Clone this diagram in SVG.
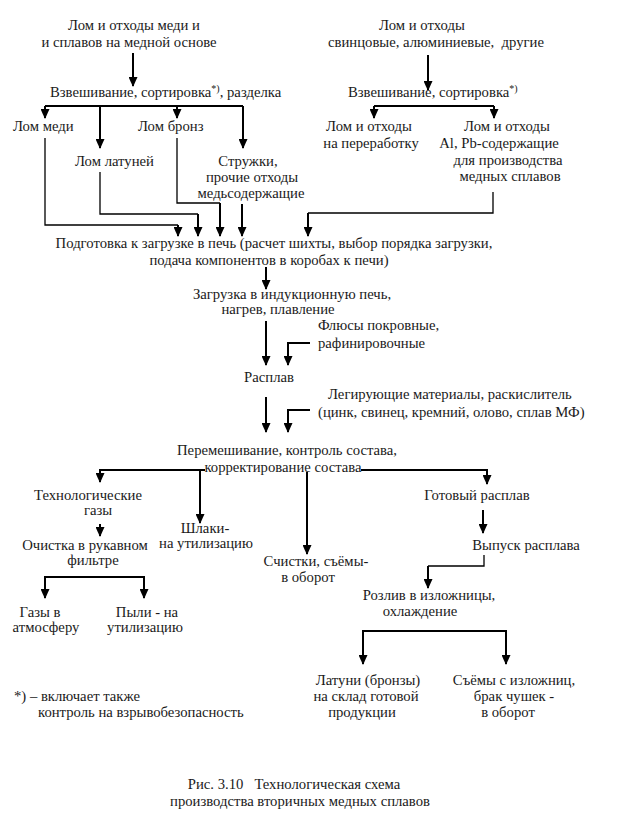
<svg xmlns="http://www.w3.org/2000/svg" width="622" height="815" viewBox="0 0 622 815" font-family="'Liberation Serif', 'Times New Roman', serif">
<defs>
<marker id="ah" markerUnits="userSpaceOnUse" markerWidth="10" markerHeight="9" refX="9" refY="4.5" orient="auto">
<path d="M0,0 L10,4.5 L0,9 z" fill="#000"/>
</marker>
<style>
text{font-family:"Liberation Serif","Times New Roman",serif;font-size:14.7px;fill:#1a1a1a;white-space:pre}
.m{text-anchor:middle}
.a{fill:none;stroke:#000;stroke-width:2;marker-end:url(#ah)}
.l{fill:none;stroke:#000;stroke-width:2}
.t{fill:none;stroke:#000;stroke-width:1.3}
</style>
</defs>
<rect width="622" height="815" fill="#fff"/>

<g id="connectors">
<path class="a" d="M133,53 V86"/>
<path class="l" d="M45,106 H243"/>
<path class="a" d="M45,106 V118"/>
<path class="a" d="M100,106 V148"/>
<path class="a" d="M177,106 V118"/>
<path class="a" d="M243,106 V148"/>
<path class="t" d="M45,138 V225 H178"/>
<path class="a" d="M178,225 V236"/>
<path class="t" d="M100,172 V214 H198"/>
<path class="a" d="M198,214 V236"/>
<path class="t" d="M177,138 V203 H220"/>
<path class="a" d="M220,203 V236"/>
<path class="a" d="M242,204 V236"/>
<path class="t" d="M493,192 V213 H308"/>
<path class="a" d="M308,213 V236"/>
<path class="a" d="M428,55 V90"/>
<path class="l" d="M374,106 H494"/>
<path class="a" d="M374,106 V118"/>
<path class="a" d="M494,106 V118"/>
<path class="a" d="M266,267 V289"/>
<path class="a" d="M266,321 V365"/>
<path class="l" d="M310,343 H288"/>
<path class="a" d="M288,342 V365"/>
<path class="a" d="M266,397 V432"/>
<path class="l" d="M310,410 H288"/>
<path class="a" d="M288,409 V432"/>
<path class="l" d="M100,470 H205"/>
<path class="l" d="M361,470 H487"/>
<path class="a" d="M100,469 V482"/>
<path class="a" d="M200,469 V523"/>
<path class="a" d="M307,472 V554"/>
<path class="a" d="M487,469 V484"/>
<path class="a" d="M100,524 V536"/>
<path class="l" d="M45,577 H144"/>
<path class="a" d="M45,576 V598"/>
<path class="a" d="M144,576 V598"/>
<path class="a" d="M483,510 V533"/>
<path class="t" d="M484,555 V566 H428"/>
<path class="a" d="M428,566 V588"/>
<path class="l" d="M363,631 H506"/>
<path class="a" d="M363,630 V664"/>
<path class="a" d="M506,630 V664"/>
</g>

<g id="n-lom-medi-src"><text class="m" x="134" y="30">Лом и отходы меди и</text><text class="m" x="129" y="47">и сплавов на медной основе</text></g>
<g id="n-vzvesh1"><text x="50" y="97">Взвешивание, сортировка<tspan font-size="10" dy="-5">*)</tspan><tspan dy="5">, разделка</tspan></text></g>
<g id="n-lom-medi"><text x="13" y="131">Лом меди</text></g>
<g id="n-lom-bronz"><text x="138" y="131">Лом бронз</text></g>
<g id="n-lom-latun"><text x="75" y="166">Лом латуней</text></g>
<g id="n-struzhki"><text class="m" x="248" y="166">Стружки,</text><text class="m" x="252" y="182">прочие отходы</text><text class="m" x="251" y="198">медьсодержащие</text></g>
<g id="n-lom-other-src"><text class="m" x="422" y="30">Лом и отходы</text><text class="m" x="436" y="47">свинцовые, алюминиевые,  другие</text></g>
<g id="n-vzvesh2"><text x="348" y="97">Взвешивание, сортировка<tspan font-size="10" dy="-5">*)</tspan></text></g>
<g id="n-pererabotka"><text class="m" x="369" y="131">Лом и отходы</text><text class="m" x="371" y="148">на переработку</text></g>
<g id="n-al-pb"><text class="m" x="507" y="131">Лом и отходы</text><text class="m" x="499" y="148">Al, Pb-содержащие</text><text class="m" x="508" y="165">для производства</text><text class="m" x="510" y="181">медных сплавов</text></g>
<g id="n-podgotovka"><text class="m" x="274" y="248">Подготовка к загрузке в печь (расчет шихты, выбор порядка загрузки,</text><text class="m" x="269" y="265">подача компонентов в коробах к печи)</text></g>
<g id="n-zagruzka"><text class="m" x="292" y="299">Загрузка в индукционную печь,</text><text class="m" x="278" y="314">нагрев, плавление</text></g>
<g id="n-flyusy"><text x="318" y="330">Флюсы покровные,</text><text x="318" y="348">рафинировочные</text></g>
<g id="n-rasplav"><text class="m" x="269" y="382">Расплав</text></g>
<g id="n-legir"><text x="328" y="399">Легирующие материалы, раскислитель</text><text x="318" y="417">(цинк, свинец, кремний, олово, сплав МФ)</text></g>
<g id="n-peremesh"><text class="m" x="287" y="455">Перемешивание, контроль состава,</text><text class="m" x="283" y="472">корректирование состава</text></g>
<g id="n-tech-gazy"><text class="m" x="88" y="500">Технологические</text><text class="m" x="98" y="515">газы</text></g>
<g id="n-ochistka"><text class="m" x="85" y="550">Очистка в рукавном</text><text class="m" x="93" y="565">фильтре</text></g>
<g id="n-gazy-atm"><text class="m" x="40" y="617">Газы в</text><text class="m" x="46" y="632">атмосферу</text></g>
<g id="n-pyli"><text class="m" x="147" y="617">Пыли - на</text><text class="m" x="145" y="632">утилизацию</text></g>
<g id="n-shlaki"><text class="m" x="205" y="533">Шлаки-</text><text class="m" x="206" y="548">на утилизацию</text></g>
<g id="n-schistki"><text class="m" x="316" y="566">Счистки, съёмы-</text><text class="m" x="308" y="582">в оборот</text></g>
<g id="n-gotovy"><text class="m" x="477" y="500">Готовый расплав</text></g>
<g id="n-vypusk"><text class="m" x="526" y="550">Выпуск расплава</text></g>
<g id="n-rozliv"><text class="m" x="429" y="600">Розлив в изложницы,</text><text class="m" x="420" y="616">охлаждение</text></g>
<g id="n-latuni"><text class="m" x="368" y="685">Латуни (бронзы)</text><text class="m" x="366" y="701">на склад готовой</text><text class="m" x="362" y="717">продукции</text></g>
<g id="n-syomy"><text class="m" x="514" y="685">Съёмы с изложниц,</text><text class="m" x="514" y="701">брак чушек -</text><text class="m" x="508" y="717">в оборот</text></g>
<g id="footnote"><text x="14" y="701">*) – включает также</text><text x="38" y="717">контроль на взрывобезопасность</text></g>
<g id="caption"><text class="m" x="294" y="789">Рис. 3.10   Технологическая схема</text><text class="m" x="300" y="806">производства вторичных медных сплавов</text></g>
</svg>
